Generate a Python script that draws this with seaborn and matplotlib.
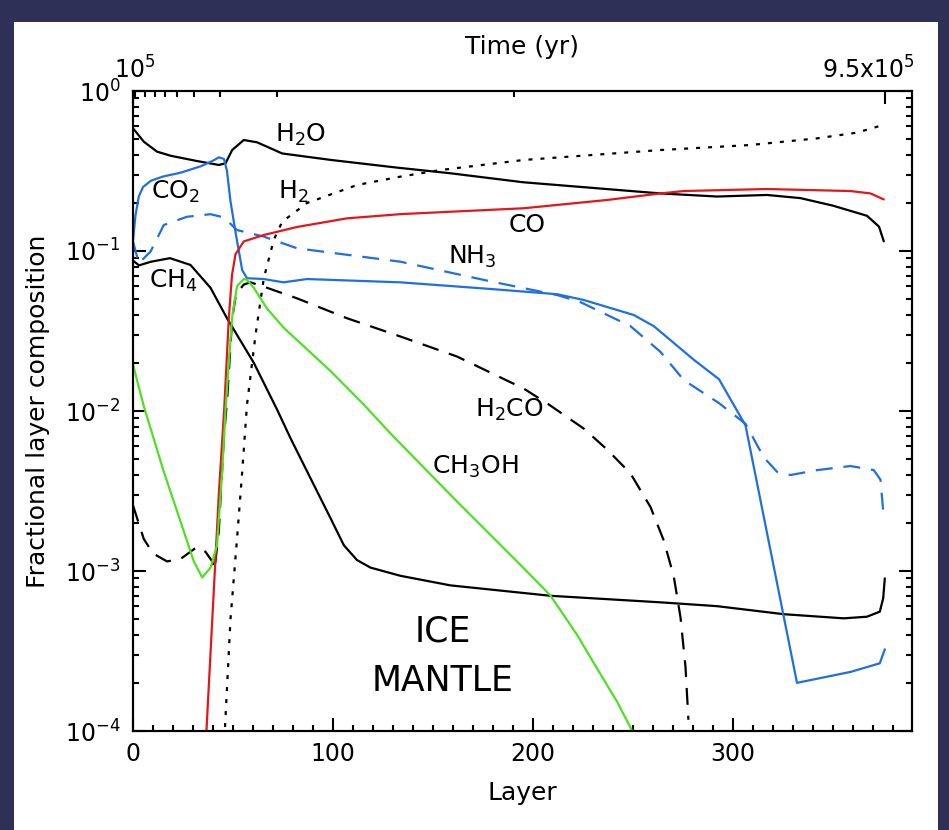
import numpy as np
import pandas as pd
import matplotlib
matplotlib.use("Agg")
import matplotlib.pyplot as plt
from matplotlib.patches import Rectangle
from matplotlib.ticker import MultipleLocator, LogLocator, NullFormatter, FixedLocator
import seaborn as sns

# ---- ice-mantle layer composition (fraction of each layer) ----
h2o_layer = [0, 5.4, 12, 18.75, 32, 42.9, 46.25, 49.6, 55.4, 62, 74.6, 98.75, 132, 158.75, 195, 263.75, 292, 317, 333.75, 350, 367, 373, 375.4]
h2o_frac = [0.585, 0.482, 0.418, 0.394, 0.365, 0.345, 0.353, 0.428, 0.494, 0.478, 0.407, 0.371, 0.332, 0.306, 0.269, 0.229, 0.219, 0.224, 0.214, 0.192, 0.166, 0.142, 0.115]

co2_layer = [0, 1.2, 2.9, 5, 9, 15, 24, 34, 40, 43, 45.5, 47, 48.75, 51.5, 54.6, 57, 65.4, 75.2, 87, 133.75, 178.75, 212, 225.4, 250.4, 260.4, 280.4, 293, 306.25, 332, 358.75, 373.4, 375.9]
co2_frac = [0.1148, 0.166, 0.219, 0.251, 0.275, 0.292, 0.309, 0.339, 0.367, 0.385, 0.376, 0.316, 0.204, 0.126, 0.0759, 0.0676, 0.0668, 0.0637, 0.0668, 0.0637, 0.0579, 0.0537, 0.0494, 0.0398, 0.0339, 0.0209, 0.0158, 0.00813, 0.000200, 0.000234, 0.000265, 0.000324]

nh3_layer = [0, 2.9, 8.75, 15.4, 27, 38.75, 45.4, 52, 65.4, 82, 133.75, 178.75, 212, 223.75, 248.75, 263.75, 275.4, 293, 306.25, 315.4, 322, 328.75, 342, 358.75, 370.4, 373.75, 375.4]
nh3_frac = [0.1148, 0.0838, 0.0991, 0.1454, 0.1637, 0.1698, 0.1622, 0.1352, 0.1230, 0.1040, 0.0857, 0.0646, 0.0531, 0.0479, 0.0339, 0.0234, 0.0156, 0.0112, 0.00832, 0.00513, 0.00417, 0.00398, 0.00427, 0.00453, 0.00427, 0.00372, 0.00214]

ch4_layer = [0, 3, 9, 18.5, 28.75, 38.75, 47, 60.4, 72, 78.75, 88.75, 98.75, 105.4, 112, 118.75, 133.75, 158.75, 208.75, 263.75, 292, 325.4, 355.4, 367, 373.4, 375.1, 375.9]
ch4_frac = [0.0871, 0.0813, 0.0857, 0.0902, 0.0818, 0.0589, 0.0380, 0.0200, 0.01023, 0.00676, 0.00380, 0.00214, 0.00145, 0.00117, 0.00105, 0.000933, 0.000813, 0.000700, 0.000637, 0.000603, 0.000537, 0.000506, 0.000518, 0.000557, 0.000676, 0.000899]

co_layer = [36.3, 43, 45.6, 47.9, 49.5, 51.25, 55.4, 65.4, 82, 107, 133.75, 195.4, 237, 263.75, 275.4, 317, 358.75, 368.75, 375.4]
co_frac = [7.94e-5, 3.16e-3, 0.01023, 0.0380, 0.0708, 0.0955, 0.1148, 0.1259, 0.1413, 0.160, 0.170, 0.185, 0.2084, 0.229, 0.237, 0.244, 0.237, 0.229, 0.210]

h2_layer = [45.7, 48.75, 52, 54.6, 57, 61.25, 65.4, 70.4, 74.6, 87, 112, 133.75, 153.75, 195.4, 263.75, 308.75, 342, 362, 373.75]
h2_frac = [8.91e-5, 5.01e-4, 1.585e-3, 4.17e-3, 0.01096, 0.02985, 0.0676, 0.1175, 0.1524, 0.1995, 0.2585, 0.2917, 0.3206, 0.3707, 0.4276, 0.4597, 0.5058, 0.5495, 0.6067]

h2co_layer = [0, 5.4, 10, 17, 23.75, 32, 36.25, 39.6, 40.8, 42.9, 45.4, 47, 49.6, 51.5, 55.4, 58.75, 67, 82, 107, 133.75, 162, 195.4, 208, 225.4, 237, 248.75, 258.75, 265.4, 270.4, 273.75, 276.25, 277.4, 277.7]
h2co_frac = [2.57e-3, 1.585e-3, 1.288e-3, 1.148e-3, 1.189e-3, 1.413e-3, 1.318e-3, 1.148e-3, 1.023e-3, 1.778e-3, 6.76e-3, 0.01148, 0.0380, 0.0537, 0.0617, 0.0637, 0.0589, 0.0506, 0.0380, 0.0292, 0.0219, 0.0138, 0.01096, 7.76e-3, 5.75e-3, 4.07e-3, 2.51e-3, 1.549e-3, 9.23e-4, 5.13e-4, 2.51e-4, 1.38e-4, 1.175e-4]

ch3oh_layer = [0, 5.4, 15.4, 23.75, 30.4, 34.6, 38.75, 42, 44.6, 46.25, 47.9, 49.6, 52, 55.4, 57, 60.4, 67, 75.4, 98.75, 115.4, 128.75, 162.1, 178.75, 195.4, 208.75, 222.1, 232.1, 242.1, 249.6, 251]
ch3oh_frac = [0.0195, 0.01072, 4.17e-3, 2.04e-3, 1.148e-3, 9.12e-4, 1.047e-3, 1.445e-3, 4.17e-3, 0.01, 0.01995, 0.0389, 0.0603, 0.0668, 0.0661, 0.0589, 0.0437, 0.0331, 0.01778, 0.01096, 7.24e-3, 2.71e-3, 1.68e-3, 1.04e-3, 7.02e-4, 3.98e-4, 2.45e-4, 1.52e-4, 1.0e-4, 8.91e-5]

# species labels: text, layer, fraction
label_text = [r"H$_2$O", r"CO$_2$", r"H$_2$", r"CH$_4$", "CO", r"NH$_3$", r"H$_2$CO", r"CH$_3$OH"]
label_layer = [83.75, 21.25, 80, 20.4, 197, 169.6, 188, 171]
label_frac = [0.531, 0.234, 0.233, 0.0646, 0.1454, 0.0923, 0.01023, 4.47e-3]

# time axis (top)
time_major_layer = [0, 376.25]
time_major_text = [r"$10^5$", r"$9.5\mathrm{x}10^5$"]
time_minor_layer = [1.25, 6.25, 11.25, 16.25, 22, 30.4, 43.4, 72, 190.75]

sns.set_theme(style="ticks", rc={
    "axes.edgecolor": "black", "axes.labelcolor": "black", "text.color": "black",
    "xtick.color": "black", "ytick.color": "black", "axes.linewidth": 1.5,
})
plt.rcParams["font.family"] = ["DejaVu Sans"]

BLUE = "#1f6fe0"
RED = "#e3171b"
GREEN = "#4fe022"

fig = plt.figure(figsize=(9.49, 8.30), dpi=100)
fig.patch.set_facecolor("#2e3058")
fig.add_artist(Rectangle((14 / 949, 0), (938 - 14) / 949, 1 - 22 / 830,
                         transform=fig.transFigure, facecolor="white",
                         edgecolor="none", zorder=0))

ax = fig.add_axes([133 / 949, 1 - 731 / 830, 779 / 949, 640 / 830])
ax.set_facecolor("white")

dash = (0, (7.6, 4.9))
dot = (0, (1.8, 3.6))
series = [
    (h2o_layer, h2o_frac, "black", "-"),
    (ch4_layer, ch4_frac, "black", "-"),
    (h2co_layer, h2co_frac, "black", dash),
    (h2_layer, h2_frac, "black", dot),
    (co2_layer, co2_frac, BLUE, "-"),
    (nh3_layer, nh3_frac, BLUE, dash),
    (co_layer, co_frac, RED, "-"),
    (ch3oh_layer, ch3oh_frac, GREEN, "-"),
]
for xs, ys, col, ls in series:
    df = pd.DataFrame({"layer": xs, "frac": ys})
    sns.lineplot(data=df, x="layer", y="frac", ax=ax, color=col, linewidth=1.6,
                 linestyle=ls, sort=False, estimator=None)

ax.set_yscale("log")
ax.set_xlim(0, 389.5)
ax.set_ylim(1e-4, 1)
ax.xaxis.set_major_locator(MultipleLocator(100))
ax.xaxis.set_minor_locator(MultipleLocator(10))
ax.yaxis.set_major_locator(LogLocator(base=10, numticks=10))
ax.yaxis.set_minor_locator(LogLocator(base=10, subs=np.arange(2, 10), numticks=10))
ax.yaxis.set_minor_formatter(NullFormatter())
ax.tick_params(axis="both", which="both", direction="in", top=False, right=True,
               width=1.5, labelsize=17)
ax.tick_params(which="major", length=9.5)
ax.tick_params(which="minor", length=4.5)
ax.tick_params(axis="x", which="major", pad=8)
ax.tick_params(axis="y", which="major", pad=9)

ax.set_xlabel("Layer", fontsize=18, va="center")
ax.xaxis.set_label_coords(0.5, -0.097)
ax.set_ylabel("Fractional layer composition", fontsize=18, va="center")
ax.yaxis.set_label_coords(-0.122, 0.5)

# top axis: time
ax2 = ax.twiny()
ax2.set_xlim(ax.get_xlim())
ax2.xaxis.set_major_locator(FixedLocator(time_major_layer))
ax2.xaxis.set_minor_locator(FixedLocator(time_minor_layer))
ax2.xaxis.set_major_formatter(NullFormatter())
ax2.tick_params(axis="x", which="both", direction="in", width=1.5)
ax2.tick_params(axis="x", which="major", length=9.5)
ax2.tick_params(axis="x", which="minor", length=4.5)
ax2.set_xlabel("Time (yr)", fontsize=18, va="center")
ax2.xaxis.set_label_coords(0.5, 1.069)
tr = ax.get_xaxis_transform()
ax.text(time_major_layer[0] + 1, 1.033, time_major_text[0], transform=tr,
        ha="center", va="center", fontsize=17)
ax.text(time_major_layer[1] - 8.5, 1.033, time_major_text[1], transform=tr,
        ha="center", va="center", fontsize=17)

for t, lx, fy in zip(label_text, label_layer, label_frac):
    ax.text(lx, fy, t, ha="center", va="center", fontsize=18)
ax.text(155, 4.17e-4, "ICE", ha="center", va="center", fontsize=25)
ax.text(155, 2.04e-4, "MANTLE", ha="center", va="center", fontsize=25)

fig.savefig("out.png", dpi=100, facecolor=fig.get_facecolor())
